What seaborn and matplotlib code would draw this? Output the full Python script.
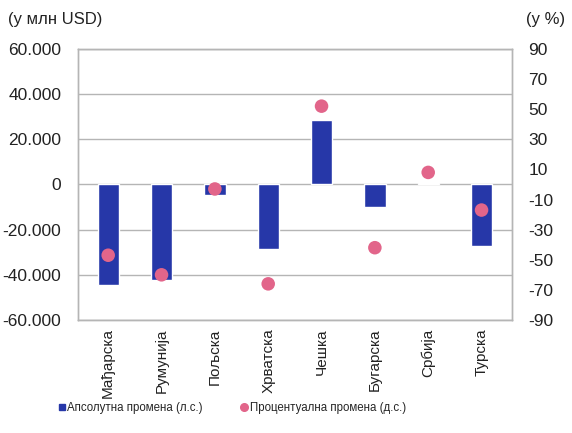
import matplotlib
matplotlib.use("Agg")
import matplotlib.pyplot as plt
from matplotlib.lines import Line2D
from matplotlib.ticker import FuncFormatter
import seaborn as sns
import pandas as pd

countries = ["Мађарска", "Румунија", "Пољска", "Хрватска", "Чешка", "Бугарска", "Србија", "Турска"]
abs_change = [-44500, -42200, -4700, -28400, 28400, -10200, 800, -27100]   # млн USD
pct_change = [-47, -60, -3, -66, 52, -42, 8, -17]                          # %

bar_color = "#2637A8"
dot_color = "#E2658A"
grid_color = "#B5B5B5"

sns.set_style("white")
plt.rcParams["font.family"] = ["Liberation Sans", "DejaVu Sans"]
plt.rcParams["axes.unicode_minus"] = False

df = pd.DataFrame({"country": countries, "abs": abs_change, "pct": pct_change})

fig = plt.figure(figsize=(5.72, 4.33), dpi=100)
ax = fig.add_axes([0.136, 0.261, 0.759, 0.626])

sns.barplot(data=df, x="country", y="abs", color=bar_color, saturation=1,
            width=0.4, ax=ax, zorder=3)
ax.set_ylim(-60000, 60000)
ax.set_yticks(range(-60000, 60001, 20000))
ax.yaxis.set_major_formatter(FuncFormatter(lambda v, p: f"{int(v):,}".replace(",", ".")))
ax.grid(axis="y", color=grid_color, linewidth=1.0, zorder=0)
ax.set_axisbelow(True)
ax.set_xlabel("")
ax.set_ylabel("")

ax2 = ax.twinx()
sns.scatterplot(data=df, x="country", y="pct", color=dot_color, s=95,
                edgecolor="none", ax=ax2, zorder=4)
ax2.set_ylim(-90, 90)
ax2.set_yticks(range(-90, 91, 20))
ax2.set_ylabel("")
ax2.set_xlim(ax.get_xlim())

for a in (ax, ax2):
    for s in a.spines.values():
        s.set_color(grid_color)
        s.set_linewidth(1.0)
    a.tick_params(axis="y", length=0, labelsize=12.5, pad=12, colors="#222222")

ax.tick_params(axis="x", length=0, labelsize=11, pad=6, rotation=90, colors="#222222")

fig.text(0.014, 0.955, "(у млн USD)", fontsize=12, color="#222222", ha="left", va="center")
fig.text(0.988, 0.955, "(у %)", fontsize=12, color="#222222", ha="right", va="center")

handles = [
    Line2D([], [], marker="s", linestyle="none", color=bar_color, markersize=4),
    Line2D([], [], marker="o", linestyle="none", color=dot_color, markersize=5.5),
]
fig.legend(handles, ["Апсолутна промена (л.с.)", "Процентуална промена (д.с.)"],
           loc="center", bbox_to_anchor=(0.405, 0.058), ncol=2, frameon=False,
           fontsize=8.3, handletextpad=0.05, columnspacing=3.2, handlelength=0.8)

fig.savefig("out.png", dpi=100)
